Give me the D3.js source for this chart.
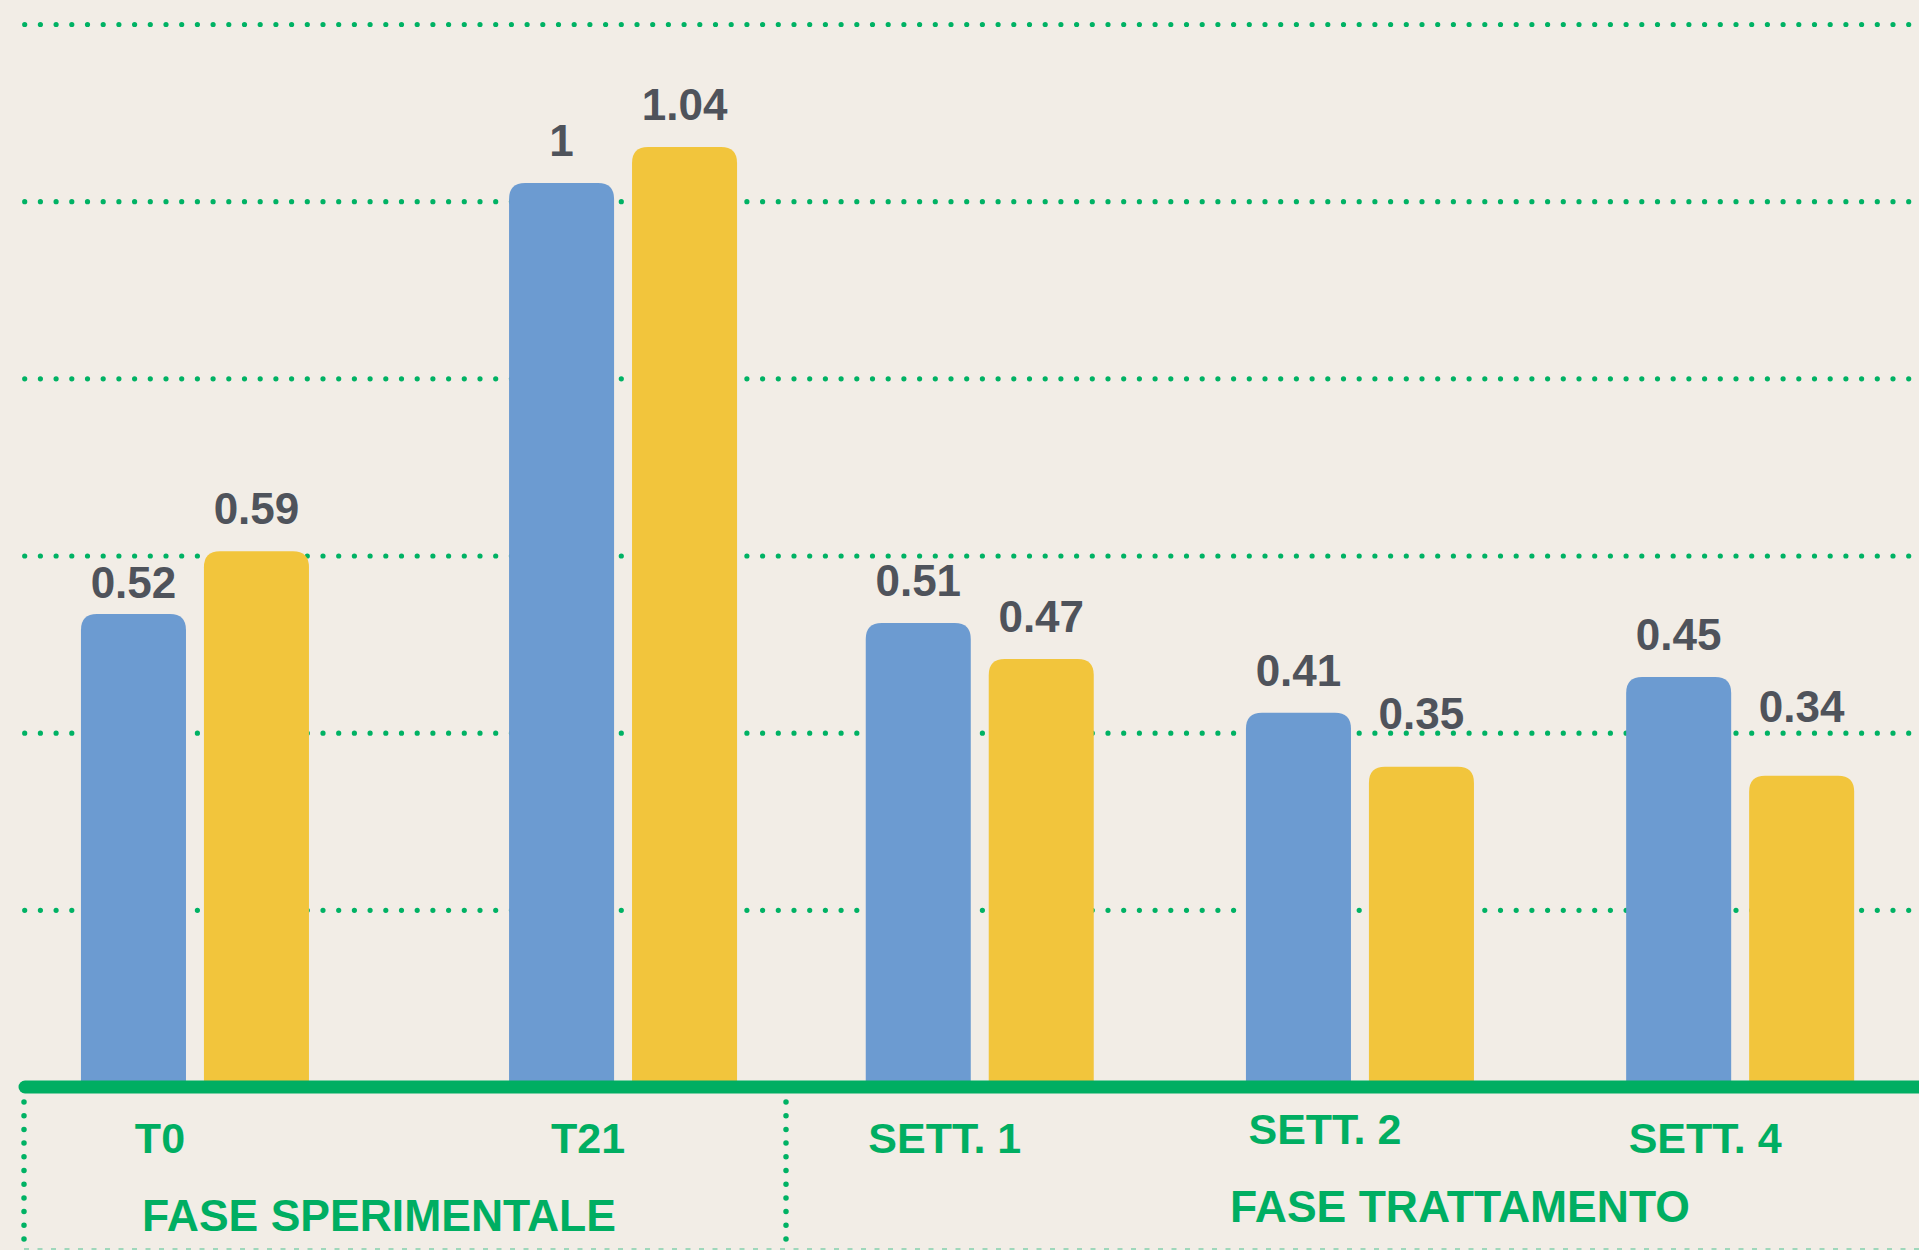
<!DOCTYPE html>
<html>
<head>
<meta charset="utf-8">
<script src="https://cdn.jsdelivr.net/npm/d3@7"></script>
<style>
  html, body { margin: 0; padding: 0; background: #f2ede6; }
  svg { display: block; }
  text { font-family: "Liberation Sans", Arial, sans-serif; font-weight: bold; }
</style>
</head>
<body>
<div id="chart"></div>
<script>
// data
var phases = ["FASE SPERIMENTALE", "FASE TRATTAMENTO"];
var phaseCategories = [["T0", "T21"], ["SETT. 1", "SETT. 2", "SETT. 4"]];
var categories = ["T0", "T21", "SETT. 1", "SETT. 2", "SETT. 4"];
var series = ["blu", "giallo"];
var valuesBlue = [0.52, 1, 0.51, 0.41, 0.45];
var valuesYellow = [0.59, 1.04, 0.47, 0.35, 0.34];
var valueLabels = [["0.52", "0.59"], ["1", "1.04"], ["0.51", "0.47"], ["0.41", "0.35"], ["0.45", "0.34"]];
var gridTicks = [0.2, 0.4, 0.6, 0.8, 1.0, 1.2];

// set up size
var width = 1919;
var height = 1250;
var baseY = 1087;         // centre of the green axis line
var phaseEdges = [24, 786, 1919];
var colors = { blu: "#6c9bd1", giallo: "#f2c53c" };
var green = "#00ae62";
var labelGray = "#4f535b";

var svg = d3.select("#chart").append("svg")
  .attr("width", width).attr("height", height);

svg.append("rect").attr("width", width).attr("height", height).attr("fill", "#f2ede6");

// scales
var y = d3.scaleLinear().domain([0, 1.2]).range([1081, 1081 - 1.2 * 898]);
var yGrid = d3.scaleLinear().domain([0, 1.2]).range([baseY, 24]);

var phaseX = [
  d3.scalePoint().domain(phaseCategories[0]).range([phaseEdges[0], phaseEdges[1]]).padding(0.39).align(0.512),
  d3.scalePoint().domain(phaseCategories[1]).range([phaseEdges[1], phaseEdges[2]]).padding(0.49).align(0.52)
];
function xCenter(cat) {
  return phaseCategories[0].indexOf(cat) >= 0 ? phaseX[0](cat) : phaseX[1](cat);
}
var xSeries = d3.scaleBand().domain(series).range([-114, 114]).paddingInner(0.146);

// dotted gridlines
var grid = svg.append("g")
  .attr("transform", "translate(24.7,0)")
  .call(d3.axisRight(yGrid).tickValues(gridTicks).tickSize(width).tickFormat(""));
grid.select(".domain").remove();
grid.selectAll(".tick line")
  .attr("stroke", "#00b264")
  .attr("stroke-width", 5.2)
  .attr("stroke-linecap", "round")
  .attr("stroke-dasharray", "0 15.7");

// bars with rounded tops
var rows = [];
categories.forEach(function (c, i) {
  rows.push({ cat: c, s: "blu", v: valuesBlue[i], label: valueLabels[i][0] });
  rows.push({ cat: c, s: "giallo", v: valuesYellow[i], label: valueLabels[i][1] });
});

function topRounded(x0, y0, w, y1, r) {
  return "M" + x0 + "," + y1 +
    "V" + (y0 + r) +
    "Q" + x0 + "," + y0 + " " + (x0 + r) + "," + y0 +
    "H" + (x0 + w - r) +
    "Q" + (x0 + w) + "," + y0 + " " + (x0 + w) + "," + (y0 + r) +
    "V" + y1 + "Z";
}

svg.append("g").selectAll("path").data(rows).join("path")
  .attr("d", function (d) {
    var x0 = xCenter(d.cat) + xSeries(d.s);
    return topRounded(x0, y(d.v), xSeries.bandwidth(), baseY, 16);
  })
  .attr("fill", function (d) { return colors[d.s]; });

// value labels (a few sit higher or lower than the rest in the original)
var labelLift = { "0.52": -11, "0.35": 11, "0.34": 27 };
svg.append("g").selectAll("text").data(rows).join("text")
  .attr("x", function (d) { return xCenter(d.cat) + xSeries(d.s) + xSeries.bandwidth() / 2; })
  .attr("y", function (d) { return y(d.v) - 27 - (labelLift[d.label] || 0); })
  .attr("text-anchor", "middle")
  .attr("font-size", "44px")
  .attr("fill", labelGray)
  .text(function (d) { return d.label; });

// axis line
svg.append("line")
  .attr("x1", 25).attr("x2", width + 10)
  .attr("y1", baseY).attr("y2", baseY)
  .attr("stroke", green).attr("stroke-width", 13).attr("stroke-linecap", "round");

// category labels (sit a little left of the bar pairs)
var labelDy = { "SETT. 2": -9 };
svg.append("g").selectAll("text").data(categories).join("text")
  .attr("x", function (d) { return xCenter(d) - 35; })
  .attr("y", function (d) { return 1153 + (labelDy[d] || 0); })
  .attr("text-anchor", "middle")
  .attr("font-size", "43px")
  .attr("fill", green)
  .text(function (d) { return d; });

// phase dividers
svg.append("g").selectAll("line").data(phaseEdges.slice(0, 2)).join("line")
  .attr("x1", function (d) { return d; }).attr("x2", function (d) { return d; })
  .attr("y1", 1102).attr("y2", 1244)
  .attr("stroke", "#00b264")
  .attr("stroke-width", 5.5)
  .attr("stroke-linecap", "round")
  .attr("stroke-dasharray", "0 13.7");

// faint bottom rule
svg.append("line")
  .attr("x1", 24).attr("x2", width)
  .attr("y1", 1249).attr("y2", 1249)
  .attr("stroke", "#9fd8bb").attr("stroke-width", 2)
  .attr("stroke-dasharray", "5 8.5");

// phase titles
var titleX = [379, 1460];
var titleY = [1231, 1222];
svg.append("g").selectAll("text").data(phases).join("text")
  .attr("x", function (d, i) { return titleX[i]; })
  .attr("y", function (d, i) { return titleY[i]; })
  .attr("text-anchor", "middle")
  .attr("font-size", "44.5px")
  .attr("fill", green)
  .text(function (d) { return d; });
</script>
</body>
</html>
